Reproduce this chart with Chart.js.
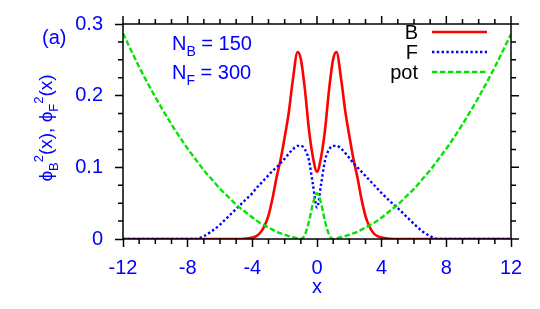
<!DOCTYPE html>
<html>
<head>
<meta charset="utf-8">
<script src="https://cdn.jsdelivr.net/npm/chart.js@4.4.0/dist/chart.umd.min.js"></script>
<style>
  html, body { margin: 0; padding: 0; background: #fff; }
  #wrap { width: 540px; height: 309px; }
</style>
</head>
<body>
<div id="wrap"><canvas id="chart" width="540" height="309"></canvas></div>
<script>
const xs = [-12, -11, -10, -9, -8, -7.5, -7, -6.5, -6, -5.5, -5, -4.5, -4, -3.75, -3.5, -3.25, -3, -2.75, -2.5, -2.25, -2, -1.75, -1.5, -1.2, -1, -0.75, -0.5, -0.25,
  0, 0.25, 0.5, 0.75, 1, 1.2, 1.5, 1.75, 2, 2.25, 2.5, 2.75, 3, 3.25, 3.5, 3.75, 4, 4.5, 5, 5.5, 6, 6.5, 7, 7.5, 8, 9, 10, 11, 12];

const phiB = [0, 0, 0, 0, 0, 0, 0, 0, 0, 0, 0, 0.0003, 0.002, 0.004, 0.009, 0.018, 0.033, 0.057, 0.086, 0.111, 0.142, 0.176, 0.221, 0.261, 0.251, 0.209, 0.153, 0.114,
  0.094, 0.114, 0.153, 0.209, 0.251, 0.261, 0.222, 0.178, 0.144, 0.112, 0.086, 0.056, 0.032, 0.017, 0.008, 0.004, 0.002, 0.0003, 0, 0, 0, 0, 0, 0, 0, 0, 0, 0, 0];

const phiF = [0, 0, 0, 0, 0, 0, 0.004, 0.011, 0.020, 0.031, 0.042, 0.053, 0.064, 0.071, 0.077, 0.083, 0.089, 0.095, 0.100, 0.106, 0.112, 0.119, 0.125, 0.130, 0.130, 0.125, 0.110, 0.076,
  0.044, 0.076, 0.110, 0.125, 0.130, 0.130, 0.126, 0.120, 0.113, 0.106, 0.100, 0.094, 0.088, 0.082, 0.076, 0.070, 0.064, 0.053, 0.043, 0.032, 0.021, 0.011, 0.004, 0, 0, 0, 0, 0, 0];

const pot = [0.287, 0.240, 0.198, 0.160, 0.126, 0.111, 0.096, 0.083, 0.070, 0.059, 0.048, 0.039, 0.030, 0.026, 0.022, 0.019, 0.016, 0.013, 0.010, 0.008, 0.006, 0.004, 0.0025, 0.001, 0, 0.006, 0.024, 0.050,
  0.064, 0.050, 0.024, 0.006, 0, 0.001, 0.0025, 0.004, 0.006, 0.008, 0.010, 0.013, 0.016, 0.019, 0.022, 0.026, 0.030, 0.039, 0.048, 0.059, 0.070, 0.083, 0.096, 0.111, 0.126, 0.160, 0.198, 0.240, 0.286];

const xTicks = [-12, -8, -4, 0, 4, 8, 12];
const yTicks = [0, 0.1, 0.2, 0.3];
const xMinor = [-11, -10, -9, -7, -6, -5, -3, -2, -1, 1, 2, 3, 5, 6, 7, 9, 10, 11];
const yMinor = [0.025, 0.05, 0.075, 0.125, 0.15, 0.175, 0.225, 0.25, 0.275];

const FONT = "'Liberation Sans', Arial, Helvetica, sans-serif";
const BLUE = "#0000ff";

const pts = ys => xs.map((x, i) => ({ x, y: ys[i] }));

// minor ticks, mirrored top/right ticks and the frame
const frame = {
  id: "frame",
  afterDraw(chart) {
    const { ctx, chartArea: a, scales } = chart;
    const sx = scales.x, sy = scales.y;
    ctx.save();
    ctx.strokeStyle = "#000";
    ctx.lineWidth = 1.5;
    ctx.strokeRect(a.left, a.top, a.right - a.left, a.bottom - a.top);
    ctx.beginPath();
    const tick = (vals, len) => {
      vals.forEach(v => {
        const px = sx.getPixelForValue(v);
        if (len < 8) { ctx.moveTo(px, a.bottom); ctx.lineTo(px, a.bottom + len); }
        ctx.moveTo(px, a.top); ctx.lineTo(px, a.top - len);
      });
    };
    const ytick = (vals, len) => {
      vals.forEach(v => {
        const py = sy.getPixelForValue(v);
        if (len < 8) { ctx.moveTo(a.left, py); ctx.lineTo(a.left - len, py); }
        ctx.moveTo(a.right, py); ctx.lineTo(a.right + len, py);
      });
    };
    tick(xMinor, 5); tick(xTicks, 8);
    ytick(yMinor, 5); ytick(yTicks, 8);
    ctx.stroke();
    ctx.restore();
  }
};

function richWidth(ctx, parts, size) {
  let w = 0;
  parts.forEach(p => {
    ctx.font = (p.sub || p.sup ? Math.round(size * 0.7) : size) + "px " + FONT;
    w += ctx.measureText(p.t).width;
  });
  return w;
}
function drawRich(ctx, parts, size, x, y) {
  let cx = x;
  parts.forEach(p => {
    const s = p.sub || p.sup ? Math.round(size * 0.7) : size;
    ctx.font = s + "px " + FONT;
    const dy = p.sub ? size * 0.3 : p.sup ? -size * 0.45 : 0;
    ctx.fillText(p.t, cx, y + dy);
    cx += ctx.measureText(p.t).width;
  });
}

const labels = {
  id: "labels",
  afterDraw(chart) {
    const { ctx } = chart;
    ctx.save();
    ctx.textBaseline = "alphabetic";
    ctx.textAlign = "left";
    ctx.fillStyle = BLUE;
    ctx.font = "20px " + FONT;
    ctx.fillText("(a)", 42, 44);
    drawRich(ctx, [{ t: "N" }, { t: "B", sub: true }, { t: " = 150" }], 20, 172, 50);
    drawRich(ctx, [{ t: "N" }, { t: "F", sub: true }, { t: " = 300" }], 20, 172, 79);

    // y axis title, rotated
    const yParts = [{ t: "\u03d5" }, { t: "B", sub: true }, { t: "2", sup: true }, { t: "(x), \u03d5" },
      { t: "F", sub: true }, { t: "2", sup: true }, { t: "(x)" }];
    const w = richWidth(ctx, yParts, 19);
    ctx.translate(52, 128);
    ctx.rotate(-Math.PI / 2);
    drawRich(ctx, yParts, 19, -w / 2, 0);
    ctx.restore();

    // legend
    ctx.save();
    ctx.font = "20px " + FONT;
    ctx.textAlign = "right";
    ctx.textBaseline = "middle";
    const rows = [32, 52, 72];
    chart.data.datasets.forEach((ds, i) => {
      ctx.fillStyle = "#000";
      ctx.fillText(ds.label, 418, rows[i] + 1);
      ctx.beginPath();
      ctx.strokeStyle = ds.borderColor;
      ctx.lineWidth = ds.borderWidth;
      ctx.setLineDash(ds.borderDash || []);
      ctx.moveTo(432, rows[i]);
      ctx.lineTo(487, rows[i]);
      ctx.stroke();
    });
    ctx.restore();
  }
};

new Chart(document.getElementById("chart"), {
  type: "line",
  data: {
    datasets: [
      { label: "B", data: pts(phiB), borderColor: "#ff0000", borderWidth: 2.6, order: 2 },
      { label: "F", data: pts(phiF), borderColor: "#0000ff", borderWidth: 2.4, borderDash: [2.4, 2.4], order: 1 },
      { label: "pot", data: pts(pot), borderColor: "#00e600", borderWidth: 2.4, borderDash: [5.5, 2.5], order: 0 }
    ]
  },
  options: {
    responsive: false,
    animation: false,
    devicePixelRatio: 1,
    layout: { padding: 0 },
    elements: { point: { radius: 0 }, line: { cubicInterpolationMode: "monotone" } },
    plugins: { legend: { display: false }, tooltip: { enabled: false } },
    scales: {
      x: {
        type: "linear", min: -12, max: 12,
        afterBuildTicks: s => { s.ticks = xTicks.map(v => ({ value: v })); },
        afterFit: s => { s.height = 70; },
        grid: { drawOnChartArea: false, tickLength: 8, tickColor: "#000", tickWidth: 1.5 },
        border: { display: false },
        ticks: { color: BLUE, font: { family: FONT, size: 20 }, padding: 9, maxRotation: 0 },
        title: { display: true, text: "x", color: BLUE, font: { family: FONT, size: 20 }, padding: { top: 0, bottom: 10 } }
      },
      y: {
        min: 0, max: 0.3,
        afterBuildTicks: s => { s.ticks = yTicks.map(v => ({ value: v })); },
        afterFit: s => { s.width = 123; },
        grid: { drawOnChartArea: false, tickLength: 8, tickColor: "#000", tickWidth: 1.5 },
        border: { display: false },
        ticks: { color: BLUE, font: { family: FONT, size: 20 }, padding: 12, callback: v => String(+v.toFixed(1)) }
      },
      x2: {
        type: "linear", position: "top", min: -12, max: 12, display: true,
        afterFit: s => { s.height = 14; },
        grid: { display: false }, border: { display: false }, ticks: { display: false }
      },
      y2: {
        position: "right", min: 0, max: 0.3, display: true,
        afterFit: s => { s.width = 29; },
        grid: { display: false }, border: { display: false }, ticks: { display: false }
      }
    }
  },
  plugins: [frame, labels]
});
</script>
</body>
</html>
